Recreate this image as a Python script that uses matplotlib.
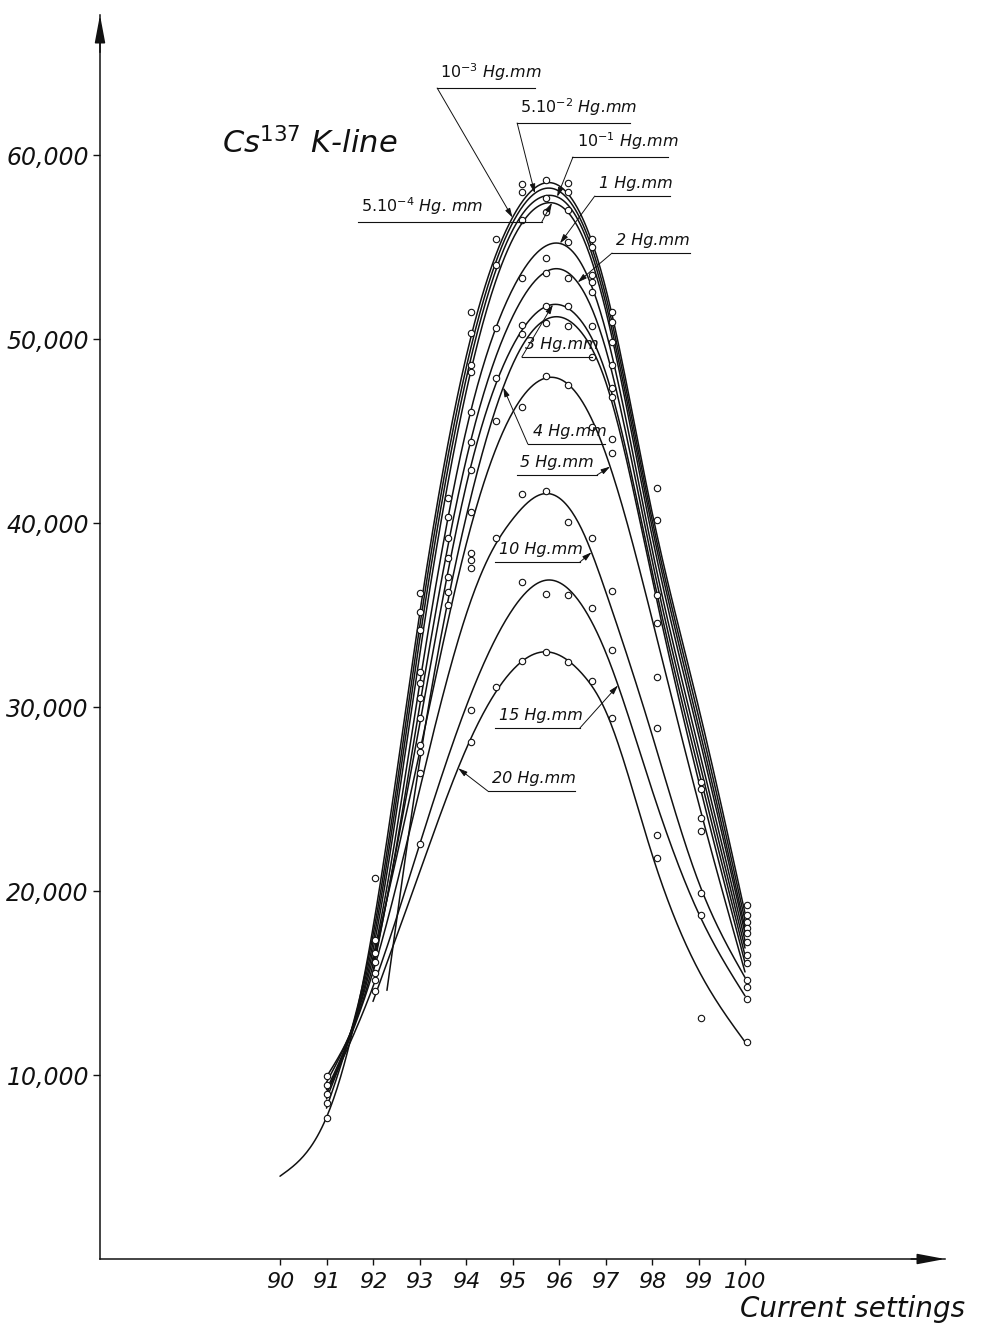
import numpy as np
import matplotlib
matplotlib.use("Agg")
import matplotlib.pyplot as plt

plt.rcParams['font.family'] = ['DejaVu Sans']
plt.rcParams['mathtext.fontset'] = 'dejavusans'
plt.rcParams['mathtext.default'] = 'it'

# ---- smoothed spectrum curves (current setting -> counts) ----
curve_names = ['$10^{-3}$ Hg.mm', '$5.10^{-2}$ Hg.mm', '$10^{-1}$ Hg.mm',
               '$5.10^{-4}$ Hg. mm', '1 Hg.mm', '2 Hg.mm', '3 Hg.mm',
               '4 Hg.mm', '5 Hg.mm', '10 Hg.mm', '15 Hg.mm', '20 Hg.mm']

curve_x = [
    [90, 91, 92, 93, 94, 95, 95.75, 96.5, 97, 98, 99, 100],
    [91, 92, 93, 94, 95, 95.75, 96.5, 97, 98, 99, 100],
    [91, 92, 93, 94, 95, 95.75, 96.5, 97, 98, 99, 100],
    [91, 92, 93, 94, 95, 95.75, 96.5, 97, 98, 99, 100],
    [91, 92, 93, 94, 95, 95.75, 96.5, 97, 98, 99, 100],
    [91, 92, 93, 94, 95, 95.75, 96.5, 97, 98, 99, 100],
    [92, 93, 94, 95, 95.75, 96.5, 97, 98, 99, 100],
    [92.3, 93, 94, 95, 95.75, 96.5, 97, 98, 99, 100],
    [92, 93, 94, 95, 95.75, 96.5, 97, 98, 99, 100],
    [91, 92, 93, 94, 94.5, 95, 95.7, 96.5, 97, 98, 99, 100],
    [91, 92, 93, 94, 95, 95.75, 96.5, 97, 98, 99, 100],
    [92, 93, 94, 95, 95.7, 96.5, 97, 98, 99, 100],
]
curve_y = [
    [4500, 7700, 18000, 35000, 49000, 56600, 58500, 56600, 52800, 40600, 30000, 18800],
    [8200, 17600, 34300, 48400, 56300, 58200, 56300, 52400, 40200, 29500, 18400],
    [8700, 17200, 33600, 47800, 55900, 57800, 56000, 52000, 39800, 29000, 18000],
    [9200, 16800, 32800, 47100, 55400, 57400, 55600, 51600, 39300, 28500, 17700],
    [9600, 16400, 31200, 45000, 52700, 55100, 54000, 50500, 38600, 27800, 17300],
    [9900, 16000, 30000, 43400, 51200, 53700, 52700, 49500, 38000, 27200, 16900],
    [15600, 29000, 42000, 49600, 51800, 50900, 48200, 37400, 26600, 16500],
    [14600, 27000, 40300, 48600, 51100, 50300, 47700, 37000, 26000, 16100],
    [16200, 27500, 38800, 46000, 47900, 46600, 43800, 34800, 24800, 15600],
    [9000, 15600, 25500, 35000, 38200, 40200, 41600, 39600, 36300, 28500, 20500, 15300],
    [9000, 14800, 22500, 30000, 35300, 36900, 35500, 33000, 25500, 18800, 14300],
    [14000, 21000, 27700, 32000, 33000, 31800, 29800, 22000, 15700, 11800],
]

# ---- measured counts, grouped by current setting ----
point_cols = [91.0, 92.05, 93.0, 93.62, 94.1, 94.65, 95.2, 95.72, 96.2,
              96.7, 97.15, 98.1, 99.05, 100.05]
point_vals = [
    [9950, 9460, 8970, 8480, 7660],
    [20710, 17340, 16630, 16140, 15540, 15160, 14570],
    [36200, 35160, 34180, 31900, 31300, 30490, 29400, 27930, 27550, 26410, 22550],
    [41360, 40330, 39180, 38100, 37070, 36250, 35540],
    [51470, 50330, 48590, 48210, 46030, 44400, 42880, 40600, 38370, 37990,
     37550, 29840, 28100],
    [55430, 54020, 50600, 47880, 45540, 39180, 31090],
    [58420, 57990, 56470, 53300, 50760, 50270, 46300, 41580, 36790, 32500],
    [58640, 57660, 56900, 54400, 53590, 51790, 50870, 47990, 41740, 36140, 32990],
    [58480, 57990, 57010, 55270, 53300, 51790, 50710, 47500, 40050, 36090, 32450],
    [55430, 55000, 53480, 53100, 52550, 50710, 49020, 45220, 39180, 35380, 31410],
    [51470, 50920, 49840, 48590, 47340, 46850, 44570, 43800, 36300, 33100, 29400],
    [41900, 40160, 36090, 34570, 31630, 28860, 23040, 21790],
    [25920, 25540, 23970, 23260, 19890, 18700, 13100],
    [19240, 18700, 18320, 17990, 17720, 17230, 16520, 16090, 15160, 14780,
     14130, 11790],
]

x_ticks = [90, 91, 92, 93, 94, 95, 96, 97, 98, 99, 100]
y_ticks = [10000, 20000, 30000, 40000, 50000, 60000]
y_tick_labels = ['10,000', '20,000', '30,000', '40,000', '50,000', '60,000']


def spline(xk, yk, xs):
    """Natural cubic spline through the knots, evaluated at xs."""
    x = np.asarray(xk, float)
    y = np.asarray(yk, float)
    n = len(x)
    h = np.diff(x)
    A = np.zeros((n, n))
    r = np.zeros(n)
    A[0, 0] = A[-1, -1] = 1.0
    for i in range(1, n - 1):
        A[i, i - 1] = h[i - 1]
        A[i, i] = 2 * (h[i - 1] + h[i])
        A[i, i + 1] = h[i]
        r[i] = 3 * ((y[i + 1] - y[i]) / h[i] - (y[i] - y[i - 1]) / h[i - 1])
    c = np.linalg.solve(A, r)
    b = (y[1:] - y[:-1]) / h - h * (2 * c[:-1] + c[1:]) / 3
    d = (c[1:] - c[:-1]) / (3 * h)
    xs = np.asarray(xs, float)
    idx = np.clip(np.searchsorted(x, xs) - 1, 0, n - 2)
    dx = xs - x[idx]
    return y[idx] + b[idx] * dx + c[idx] * dx ** 2 + d[idx] * dx ** 3


W, H = 982, 1327
fig = plt.figure(figsize=(W / 100, H / 100), dpi=100)
fig.patch.set_facecolor('white')

# axes placed so that the axis lines sit where the hand-drawn ones do
ax = fig.add_axes([100 / W, (H - 1259) / H, 845 / W, 1244 / H])
ax.set_xlim(86.129, 104.301)
ax.set_ylim(0, 67609)
ax.set_facecolor('none')
for s in ('top', 'right'):
    ax.spines[s].set_visible(False)
for s in ('left', 'bottom'):
    ax.spines[s].set_linewidth(1.1)
    ax.spines[s].set_color('#111111')

ink = '#111111'

# axis arrow heads
arrow_style = dict(arrowstyle='-|>,head_length=1.7,head_width=0.32',
                   color=ink, lw=1.1, mutation_scale=10, shrinkA=0, shrinkB=0)
ax.annotate('', xy=(1.0, 0), xytext=(0.96, 0), xycoords='axes fraction',
            arrowprops=arrow_style, annotation_clip=False)
ax.annotate('', xy=(0, 1.0), xytext=(0, 0.97), xycoords='axes fraction',
            arrowprops=arrow_style, annotation_clip=False)

ax.set_xticks(x_ticks)
ax.set_xticklabels([str(t) for t in x_ticks], fontsize=16, fontstyle='italic')
ax.set_yticks(y_ticks)
ax.set_yticklabels(y_tick_labels, fontsize=17, fontstyle='italic')
ax.tick_params(axis='x', direction='out', length=4, width=1, pad=5, colors=ink)
ax.tick_params(axis='y', direction='out', length=5, width=1, pad=3, colors=ink)

# curves
for xk, yk in zip(curve_x, curve_y):
    xs = np.linspace(xk[0], xk[-1], 400)
    ax.plot(xs, spline(xk, yk, xs), color=ink, lw=1.1, zorder=2,
            solid_capstyle='round')

# measured points
for xc, vals in zip(point_cols, point_vals):
    ax.plot([xc] * len(vals), vals, linestyle='none', marker='o', ms=4.6,
            mfc='white', mec=ink, mew=0.8, zorder=3)

# labels: (curve index, underline x-start, underline x-end, underline y,
#          leader start x, arrow x on curve, text x)
label_layout = [
    (0, 93.38, 95.48, 63640, 93.38, 95.00, 93.44),
    (1, 95.10, 97.53, 61740, 95.10, 95.48, 95.16),
    (2, 96.28, 98.34, 59890, 96.30, 95.96, 96.38),
    (3, 91.68, 95.63, 56360, 95.63, 95.85, 91.74),
    (4, 96.77, 98.39, 57770, 96.77, 96.02, 96.85),
    (5, 97.14, 98.82, 54670, 97.14, 96.40, 97.22),
    (6, 95.20, 96.71, 49020, 95.20, 95.87, 95.26),
    (7, 95.33, 96.99, 44290, 95.33, 94.80, 95.45),
    (8, 95.10, 96.82, 42610, 96.82, 97.10, 95.16),
    (9, 94.62, 96.45, 37880, 96.45, 96.70, 94.70),
    (10, 94.62, 96.45, 28860, 96.45, 97.27, 94.70),
    (11, 94.47, 96.34, 25430, 94.47, 93.83, 94.55),
]
for ci, u0, u1, uy, lx, ax_x, tx in label_layout:
    ax.plot([u0, u1], [uy, uy], color=ink, lw=0.8, zorder=4)
    ty = spline(curve_x[ci], curve_y[ci], [ax_x])[0]
    ax.annotate('', xy=(ax_x, ty), xytext=(lx, uy),
                arrowprops=dict(arrowstyle='-|>,head_length=0.55,head_width=0.16',
                                color=ink, lw=0.7, mutation_scale=10,
                                shrinkA=0, shrinkB=0), zorder=4)
    ax.text(tx, uy + 250, curve_names[ci], fontsize=11.5, fontstyle='italic',
            ha='left', va='bottom', color=ink, zorder=5)

# title inside the plot
ax.text(88.75, 60110, 'Cs$^{137}$ K-line', fontsize=22, fontstyle='italic',
        ha='left', va='baseline', color=ink)

fig.text(740 / W, 1 - 1317 / H, 'Current settings', fontsize=20,
         fontstyle='italic', ha='left', va='baseline', color=ink)

fig.savefig('out.png', dpi=100, facecolor='white')
